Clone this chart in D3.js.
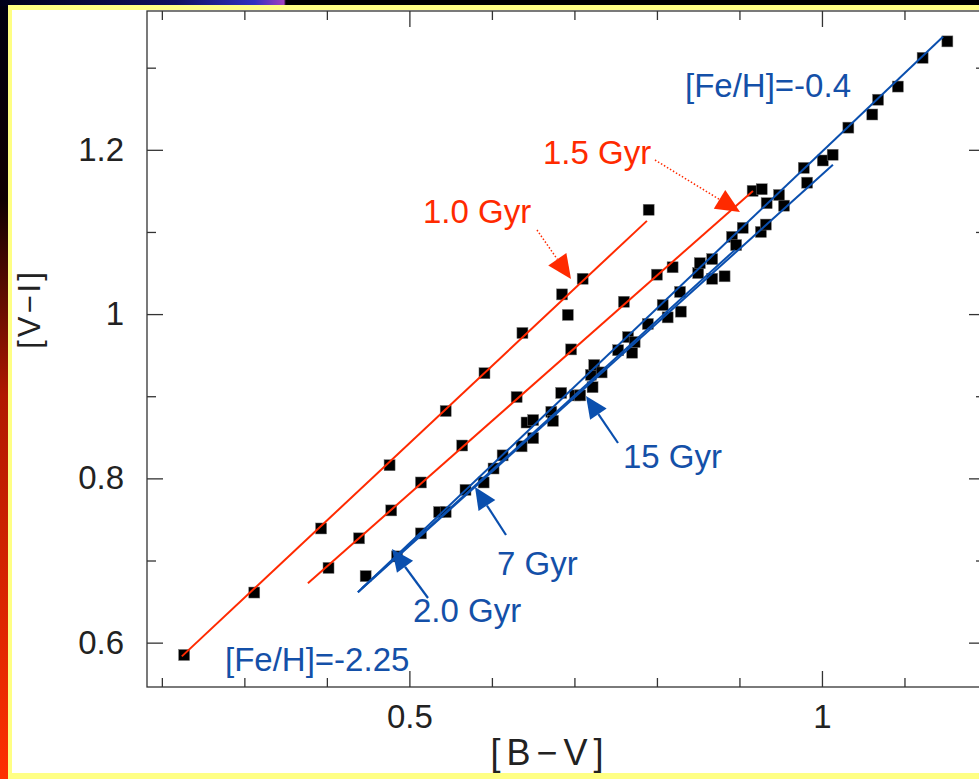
<!DOCTYPE html>
<html>
<head>
<meta charset="utf-8">
<script src="https://cdn.jsdelivr.net/npm/d3@7"></script>
<style>
  html, body { margin: 0; padding: 0; background: #000; overflow: hidden; }
  svg { display: block; }
</style>
</head>
<body>
<div id="chart"></div>
<script>
// star colours [B-V], [V-I]
var stars = [
  [0.227,0.585],[0.312,0.661],[0.393,0.739],[0.402,0.691],[0.439,0.727],[0.447,0.681],
  [0.476,0.816],[0.478,0.761],[0.485,0.705],[0.514,0.795],[0.514,0.733],[0.536,0.759],
  [0.544,0.759],[0.544,0.882],[0.591,0.928],[0.564,0.840],[0.568,0.786],[0.590,0.795],
  [0.602,0.812],[0.613,0.828],[0.630,0.899],[0.636,0.839],[0.637,0.977],[0.642,0.868],
  [0.650,0.871],[0.650,0.849],[0.672,0.881],[0.674,0.870],[0.684,0.904],[0.685,1.024],
  [0.692,0.999],[0.696,0.957],[0.701,0.901],[0.707,0.901],[0.710,1.043],[0.720,0.926],
  [0.722,0.911],[0.724,0.938],[0.733,0.929],[0.753,0.956],[0.760,1.015],[0.765,0.972],
  [0.770,0.953],[0.773,0.966],[0.789,0.988],[0.790,1.127],[0.800,1.048],[0.807,1.011],
  [0.813,0.996],[0.819,1.057],[0.829,1.003],[0.828,1.027],[0.850,1.050],[0.852,1.062],
  [0.867,1.067],[0.867,1.043],[0.882,1.046],[0.891,1.094],[0.896,1.084],[0.904,1.105],
  [0.916,1.150],[0.927,1.152],[0.933,1.135],[0.926,1.100],[0.932,1.109],[0.948,1.145],
  [0.954,1.132],[0.978,1.178],[0.982,1.160],[1.001,1.187],[1.013,1.194],[1.032,1.227],
  [1.061,1.243],[1.068,1.261],[1.092,1.277],[1.122,1.312],[1.152,1.332]
];

// model isochrones (end points)
var redLines = [
  [[0.2242,0.5833],[0.7879,1.1135]],   // 1.0 Gyr
  [[0.377,0.6723],[0.9164,1.150]]      // 1.5 Gyr
];
var blueLines = [
  [[0.4376,0.6613],[1.1467,1.3377]],
  [[0.4376,0.6613],[1.0133,1.1817]],
  [[0.4424,0.6662],[0.8945,1.0781]]
];

var xMinor = [0.2,0.3,0.4,0.6,0.7,0.8,0.9,1.1];
var xMajor = [0.5,1.0];
var yMinor = [0.7,0.9,1.1,1.3];
var yMajor = [0.6,0.8,1.0,1.2];

var W = 979, H = 779;
var mLeft = 147, mTop = 11, mRight = 985, mBottom = 687;

var svg = d3.select('#chart').append('svg')
  .attr('width', W).attr('height', H);

var defs = svg.append('defs');
var gl = defs.append('linearGradient').attr('id', 'leftGrad')
  .attr('x1', 0).attr('y1', 0).attr('x2', 0).attr('y2', 1);
gl.append('stop').attr('offset', '0%').attr('stop-color', '#000010');
gl.append('stop').attr('offset', '25%').attr('stop-color', '#100000');
gl.append('stop').attr('offset', '50%').attr('stop-color', '#b01800');
gl.append('stop').attr('offset', '100%').attr('stop-color', '#ff3000');
var gt = defs.append('linearGradient').attr('id', 'topGrad')
  .attr('x1', 0).attr('y1', 0).attr('x2', 1).attr('y2', 0);
gt.append('stop').attr('offset', '0%').attr('stop-color', '#000018');
gt.append('stop').attr('offset', '18%').attr('stop-color', '#101060');
gt.append('stop').attr('offset', '26%').attr('stop-color', '#3030c0');
gt.append('stop').attr('offset', '29%').attr('stop-color', '#a040c0');
gt.append('stop').attr('offset', '29.2%').attr('stop-color', '#000');
gt.append('stop').attr('offset', '100%').attr('stop-color', '#000');

svg.append('rect').attr('width', W).attr('height', H).attr('fill', '#000');
svg.append('rect').attr('width', W).attr('height', 6).attr('fill', 'url(#topGrad)');
svg.append('rect').attr('y', 6).attr('width', 8).attr('height', H).attr('fill', 'url(#leftGrad)');
svg.append('rect').attr('x', 8).attr('y', 5).attr('width', W).attr('height', 774).attr('fill', '#ffff84');
svg.append('rect').attr('x', 12).attr('y', 10).attr('width', W).attr('height', 763).attr('fill', '#fff');

var x = d3.scaleLinear().domain([0.182, 1.1976]).range([mLeft, mRight]);
var y = d3.scaleLinear().domain([0.546, 1.369]).range([mBottom, mTop]);

var axisColor = '#333';
var font = "'Liberation Sans', Arial, sans-serif";

function styleAxis(g) {
  g.select('.domain').remove();
  g.selectAll('line').attr('stroke', axisColor).attr('stroke-width', 1.3);
  g.selectAll('text').attr('font-family', font).attr('font-size', 33).attr('fill', '#222');
}

// frame
svg.append('rect')
  .attr('x', mLeft).attr('y', mTop)
  .attr('width', mRight - mLeft).attr('height', mBottom - mTop)
  .attr('fill', 'none').attr('stroke', axisColor).attr('stroke-width', 1.3);

// bottom / top
svg.append('g').attr('transform', `translate(0,${mBottom})`)
  .call(d3.axisBottom(x).tickValues(xMinor).tickSize(-9).tickFormat(''))
  .call(styleAxis);
svg.append('g').attr('transform', `translate(0,${mBottom})`)
  .call(d3.axisBottom(x).tickValues(xMajor).tickSize(-16).tickPadding(18).tickFormat(d3.format('')))
  .call(styleAxis);
svg.append('g').attr('transform', `translate(0,${mTop})`)
  .call(d3.axisTop(x).tickValues(xMinor).tickSize(-9).tickFormat(''))
  .call(styleAxis);
svg.append('g').attr('transform', `translate(0,${mTop})`)
  .call(d3.axisTop(x).tickValues(xMajor).tickSize(-16).tickFormat(''))
  .call(styleAxis);

// left / right
svg.append('g').attr('transform', `translate(${mLeft},0)`)
  .call(d3.axisLeft(y).tickValues(yMinor).tickSize(-9).tickFormat(''))
  .call(styleAxis);
svg.append('g').attr('transform', `translate(${mLeft},0)`)
  .call(d3.axisLeft(y).tickValues(yMajor).tickSize(-16).tickPadding(23).tickFormat(d3.format('')))
  .call(styleAxis);
svg.append('g').attr('transform', `translate(${mRight},0)`)
  .call(d3.axisRight(y).tickValues(yMinor).tickSize(-9).tickFormat(''))
  .call(styleAxis);
svg.append('g').attr('transform', `translate(${mRight},0)`)
  .call(d3.axisRight(y).tickValues(yMajor).tickSize(-16).tickFormat(''))
  .call(styleAxis);

// axis titles
svg.append('text')
  .attr('x', 550).attr('y', 765)
  .attr('text-anchor', 'middle')
  .attr('font-family', font).attr('font-size', 36).attr('fill', '#222')
  .attr('letter-spacing', 6)
  .text('[B\u2212V]');
svg.append('text')
  .attr('transform', 'translate(40,309) rotate(-90)')
  .attr('text-anchor', 'middle')
  .attr('font-family', font).attr('font-size', 31).attr('fill', '#222')
  .attr('letter-spacing', 3)
  .text('[V\u2212I]');

// stars
var sq = 11;
svg.append('g').selectAll('rect')
  .data(stars)
  .enter()
  .append('rect')
  .attr('x', function(d) { return x(d[0]) - sq / 2; })
  .attr('y', function(d) { return y(d[1]) - sq / 2; })
  .attr('width', sq).attr('height', sq)
  .attr('fill', '#000')
  .attr('stroke', '#777').attr('stroke-width', 0.5);

var line = d3.line().x(function(d) { return x(d[0]); }).y(function(d) { return y(d[1]); });
var red = '#ff2a00', blue = '#0a4fae', blueText = '#1450a8';

svg.append('g').selectAll('path')
  .data(redLines).enter().append('path')
  .attr('d', line).attr('fill', 'none')
  .attr('stroke', red).attr('stroke-width', 2);
svg.append('g').selectAll('path')
  .data(blueLines).enter().append('path')
  .attr('d', line).attr('fill', 'none')
  .attr('stroke', blue).attr('stroke-width', 2);

// arrows
function arrow(x0, y0, x1, y1, color, dotted, headLen, headW) {
  var dx = x1 - x0, dy = y1 - y0;
  var len = Math.sqrt(dx * dx + dy * dy);
  var ux = dx / len, uy = dy / len;
  var bx = x1 - ux * headLen, by = y1 - uy * headLen;
  svg.append('line')
    .attr('x1', x0).attr('y1', y0).attr('x2', bx).attr('y2', by)
    .attr('stroke', color).attr('stroke-width', dotted ? 1.5 : 2.2)
    .attr('stroke-dasharray', dotted ? '1.5,2' : null);
  var px = -uy * headW / 2, py = ux * headW / 2;
  svg.append('path')
    .attr('d', `M${x1},${y1}L${bx + px},${by + py}L${bx - px},${by - py}Z`)
    .attr('fill', color);
}

arrow(537, 230, 571, 279, red, true, 24, 22);
arrow(655, 160, 740, 212, red, true, 24, 22);
arrow(618, 443, 586, 396, blue, false, 22, 20);
arrow(506, 535, 475, 487, blue, false, 22, 20);
arrow(428, 598, 392, 549, blue, false, 22, 20);

function label(tx, ty, txt, color) {
  svg.append('text')
    .attr('x', tx).attr('y', ty)
    .attr('font-family', font).attr('font-size', 33).attr('fill', color)
    .text(txt);
}
label(423, 223, '1.0 Gyr', red);
label(543, 164, '1.5 Gyr', red);
label(623, 468, '15 Gyr', blueText);
label(497, 575, '7 Gyr', blueText);
label(413, 622, '2.0 Gyr', blueText);
label(225, 671, '[Fe/H]=-2.25', blueText);
label(685, 97, '[Fe/H]=-0.4', blueText);
</script>
</body>
</html>
